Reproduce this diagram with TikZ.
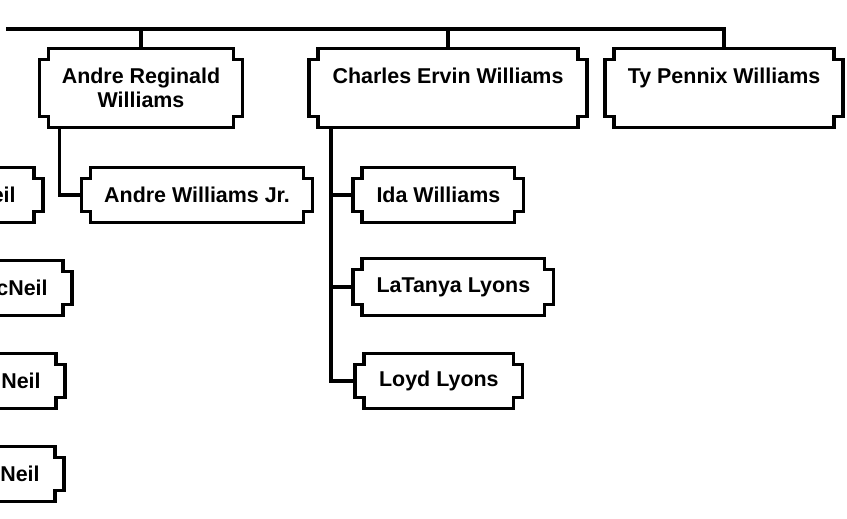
\documentclass[tikz,border=0pt]{standalone}
\usepackage{fontspec}
\setmainfont{Liberation Sans}
\usetikzlibrary{positioning,calc}

% outline with stepped corners round a named node
\newcommand{\notchbox}[1]{%
  \draw[boxline] ([xshift=0.18cm]#1.north west) -- ([xshift=-0.18cm]#1.north east)
    |- ([yshift=-0.22cm]#1.north east) -- ([yshift=0.22cm]#1.south east)
    -| ([xshift=-0.18cm]#1.south east) -- ([xshift=0.18cm]#1.south west)
    |- ([yshift=0.22cm]#1.south west) -- ([yshift=-0.22cm]#1.north west)
    -| ([xshift=0.18cm]#1.north west) -- cycle;}

\begin{document}
\begin{tikzpicture}[x=0.02cm, y=-0.02cm,
  boxline/.style={line width=2pt, line join=miter},
  link/.style={line width=2pt},
  card/.style 2 args={minimum width=#1*0.02cm, minimum height=#2*0.02cm,
    inner sep=0pt, align=center, font=\fontsize{12.2}{13.6}\selectfont\bfseries},
  leftcard/.style={card={198}{54}, text width=3cm, align=right, inner xsep=0.48cm, anchor=east}]
\clip (0,0) rectangle (847,519);
% top row
\node[card={202}{78}] (andre) at (141,88) {Andre Reginald\\Williams};
\node[card={277}{78}] (charles) at (448,88) {Charles Ervin Williams\\~};
\node[card={237}{78}] (ty) at (724,88) {Ty Pennix Williams\\~};
% children
\node[card={230}{54}] (andrejr) at (197,195) {Andre Williams Jr.};
\node[card={170}{54}, anchor=west] (ida) at (353,195) {Ida Williams};
\node[card={200}{56}, anchor=west] (latanya) at (353,287) {LaTanya Lyons};
\node[card={167}{54}, anchor=west] (loyd) at (355,381) {Loyd Lyons};
% boxes cut by the left edge
\node[leftcard, inner xsep=0.54cm] (neila) at (43,195) {Neil};
\node[leftcard] (neilb) at (72,288) {cNeil};
\node[leftcard] (neilc) at (65,381) {Neil};
\node[leftcard] (neild) at (64,474) {Neil};
\foreach \n in {andre,charles,ty,andrejr,ida,latanya,loyd,neila,neilb,neilc,neild}
  {\notchbox{\n}}
% connectors
\coordinate (trunk) at (6,29);
\draw[link] (trunk) -| (ty.north);
\draw[link] (andre.north) -- (andre.north |- trunk);
\draw[link] (charles.north) -- (charles.north |- trunk);
\draw[link] ([xshift=0.4cm]andre.south west) |- (andrejr.west);
\coordinate (cv) at ([xshift=0.44cm]charles.south west);
\draw[link] (cv) |- (loyd.west);
\draw[link] (ida.west) -- (ida.west -| cv);
\draw[link] (latanya.west) -- (latanya.west -| cv);
\end{tikzpicture}
\end{document}
